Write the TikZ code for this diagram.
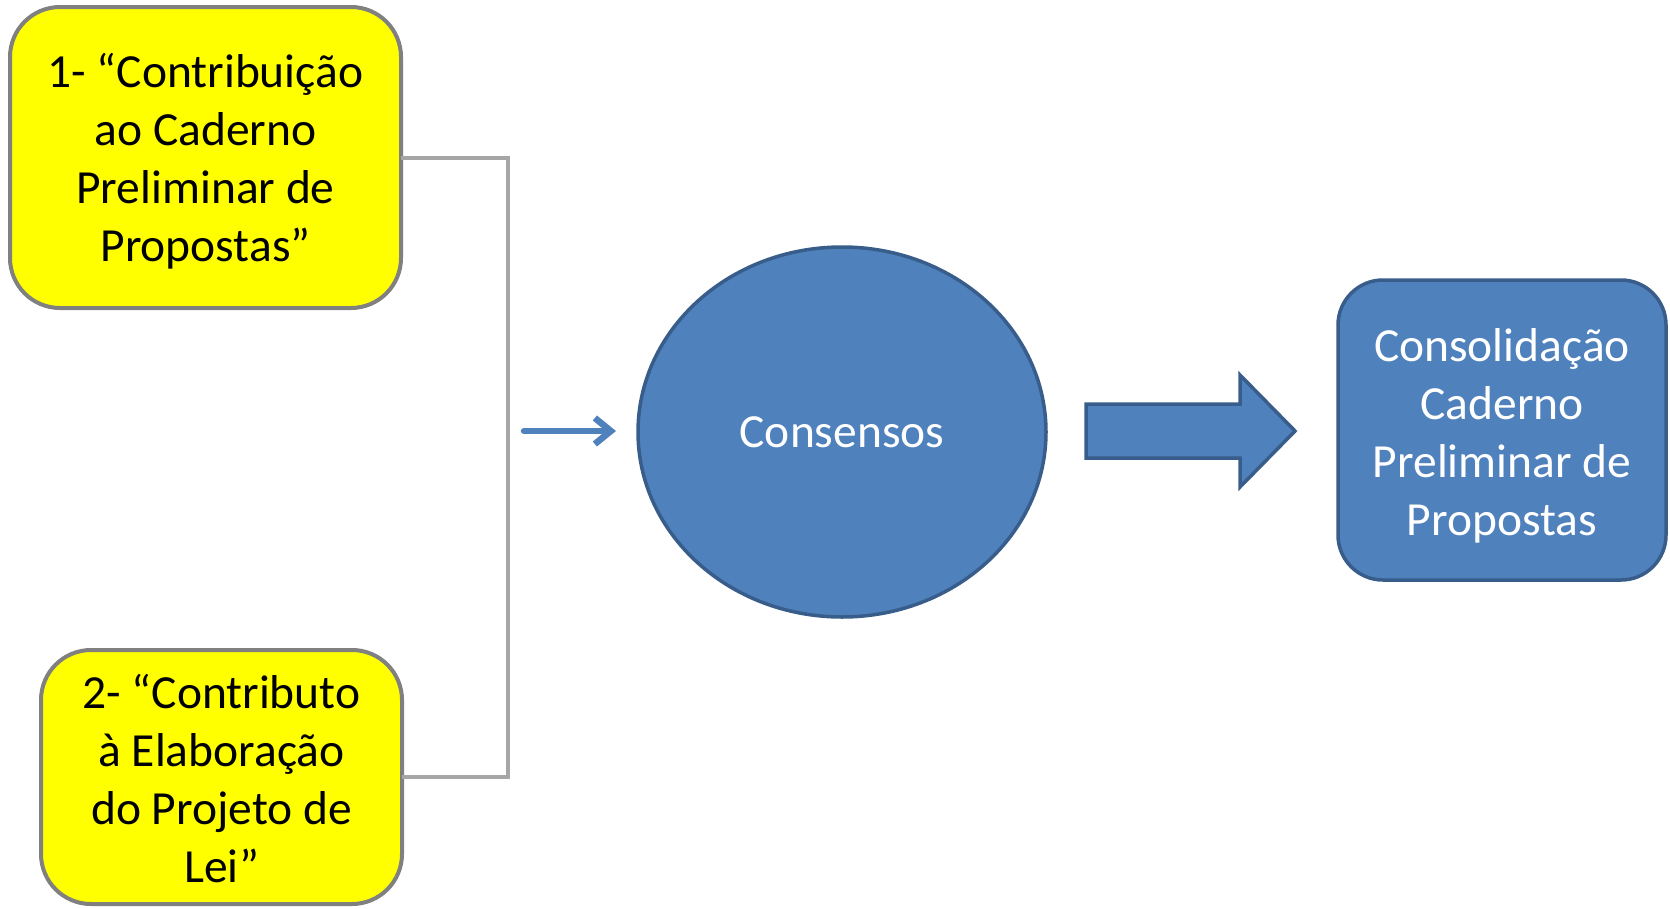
\documentclass[tikz,border=0pt]{standalone}
\usepackage{fontspec}
\setmainfont{Carlito}
\usetikzlibrary{arrows.meta,shapes.geometric,positioning}

\definecolor{caixa}{HTML}{FFFF00}
\definecolor{borda}{HTML}{808080}
\definecolor{ligacao}{HTML}{A6A6A6}
\definecolor{azul}{HTML}{4F81BD}
\definecolor{azulesc}{HTML}{385D8A}

\newcommand{\folga}[1]{\rule{0pt}{#1}}

\begin{document}
\begin{tikzpicture}[x=1pt,y=-1pt,>={Straight Barb[length=16pt,width=26pt]},
                    every node/.style={font=\fontsize{47.5}{58}\selectfont,align=center,inner sep=0pt,outer sep=0pt},
                    contrib/.style={draw=borda,fill=caixa,line width=4pt,rounded corners=50pt},
                    consenso/.style={ellipse,draw=azulesc,fill=azul,line width=3.5pt,text=white},
                    final/.style={draw=azulesc,fill=azul,line width=3.5pt,rounded corners=45pt,text=white},
                    chave/.style={draw=ligacao,line width=4pt}]
 % \useasboundingbox[fill=white] (0,0) rectangle (1670,908);
  \useasboundingbox (0,0) rectangle (1670,908);

  \node[contrib,minimum width=391pt,minimum height=301pt]  (C1) at (205.5,157.5) {\folga{42pt}1- “Contribuição\\ao Caderno\\Preliminar de\\Propostas”};
  \node[contrib,minimum width=361pt,minimum height=254pt]  (C2) at (221.5,777)   {\folga{38pt}2- “Contributo\\à Elaboração\\do Projeto de\\Lei”};
  \node[consenso,minimum width=408pt,minimum height=370pt] (CS) at (842,432)     {Consensos};
  \node[final,minimum width=328pt,minimum height=300pt]    (CF) at (1502,430)    {\folga{44pt}Consolidação\\Caderno\\Preliminar de\\Propostas};

  \coordinate (J)  at (508,430);
  \coordinate (s0) at (524,431);
  \coordinate (s1) at (616,431);
  \coordinate (B)  at (1086,431);

  \draw[chave] (C1.east) -| (J) |- (C2.east);
  \draw[->,draw=azul,line width=6.5pt,line cap=round,line join=round] (s0) -- (s1);

  \draw[draw=azulesc,fill=azul,line width=3.5pt,line join=miter]
    (B) ++(0,-27) -- ++(154,0) -- ++(0,-29) -- ++(55,56) -- ++(-55,56)
    -- ++(0,-29) -- ++(-154,0) -- cycle;
\end{tikzpicture}
\end{document}
